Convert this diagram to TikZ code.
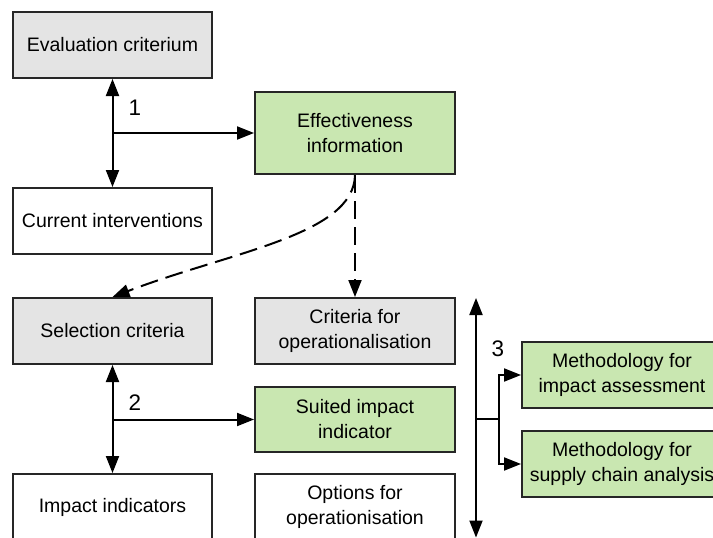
\documentclass[tikz,border=0pt]{standalone}
\usepackage{fontspec}
\setmainfont{Liberation Sans}
\usepackage{tikz}
\usetikzlibrary{arrows.meta}
\usetikzlibrary{calc}
\definecolor{boxgrey}{HTML}{E4E4E4}
\definecolor{boxgreen}{HTML}{C9E7B1}

\begin{document}
\begin{tikzpicture}[x=1pt, y=-1pt, line width=2pt,
        box_style/.style={rectangle,draw=black!85,fill=white,minimum width=199pt,minimum height=66pt,inner sep=2pt,align=center,font=\fontsize{19.5}{25}\selectfont},
        grey_box_style/.style={box_style,fill=boxgrey},
        green_box_style/.style={box_style,fill=boxgreen},
        edge_style/.style={draw=black,-{Triangle[length=17pt,width=13pt]}},
        both_edge_style/.style={draw=black,{Triangle[length=17pt,width=13pt]}-{Triangle[length=17pt,width=13pt]}},
        dashed_edge_style/.style={edge_style,dash pattern=on 18pt off 8pt},
        num_style/.style={font=\fontsize{22.5}{27}\selectfont}]

        \useasboundingbox (0,0) rectangle (713,538);
        \clip (0,0) rectangle (713,538);

        \node [grey_box_style](eval) at (112.5,45) {Evaluation criterium};

        \node [box_style](curr) at (112.5,221) {Current interventions};

        \node [green_box_style,minimum height=82pt,minimum width=200pt](eff) at (355,133) {Effectiveness\\information};

        \node [grey_box_style](sel) at (112.5,331) {Selection criteria};

        \node [grey_box_style,minimum width=200pt](critop) at (355,331) {Criteria for\\operationalisation};

        \node [green_box_style,minimum width=200pt,minimum height=65pt](suited) at (355,419.5) {Suited impact\\indicator};

        \node [box_style](impind) at (112.5,507) {Impact indicators};

        \node [box_style,minimum width=200pt](optop) at (355,507) {Options for\\operationisation};

        \node [green_box_style,minimum width=200pt](methimp) at (622,375) {Methodology for\\impact assessment};

        \node [green_box_style,minimum width=200pt](methsc) at (622,464) {Methodology for\\supply chain analysis};

        \coordinate (top3) at (476,298);
        \coordinate (bot3) at (476,537.5);
        \coordinate (j3) at (499,419);

        \draw [both_edge_style] (eval) -- (curr);

        \draw [edge_style] (eval.south |- eff.west) -- (eff.west);

        \node [num_style](n1) at (135,108) {1};

        \draw [both_edge_style] (sel) -- (impind);

        \draw [edge_style] (sel.south |- suited.west) -- (suited.west);

        \node [num_style](n2) at (135,403) {2};

        \draw [dashed_edge_style] (eff.south) -- (critop.north);

        \draw [dashed_edge_style] (eff.south) .. controls (354,235) and (230,252) .. (sel.north);

        \draw [both_edge_style] (top3) -- (bot3);

        \draw (top3 |- j3) -- (j3);

        \draw [edge_style] (j3) |- (methimp.west);

        \draw [edge_style] (j3) |- (methsc.west);

        \node [num_style](n3) at (498,349) {3};

        \end{tikzpicture}
\end{document}
